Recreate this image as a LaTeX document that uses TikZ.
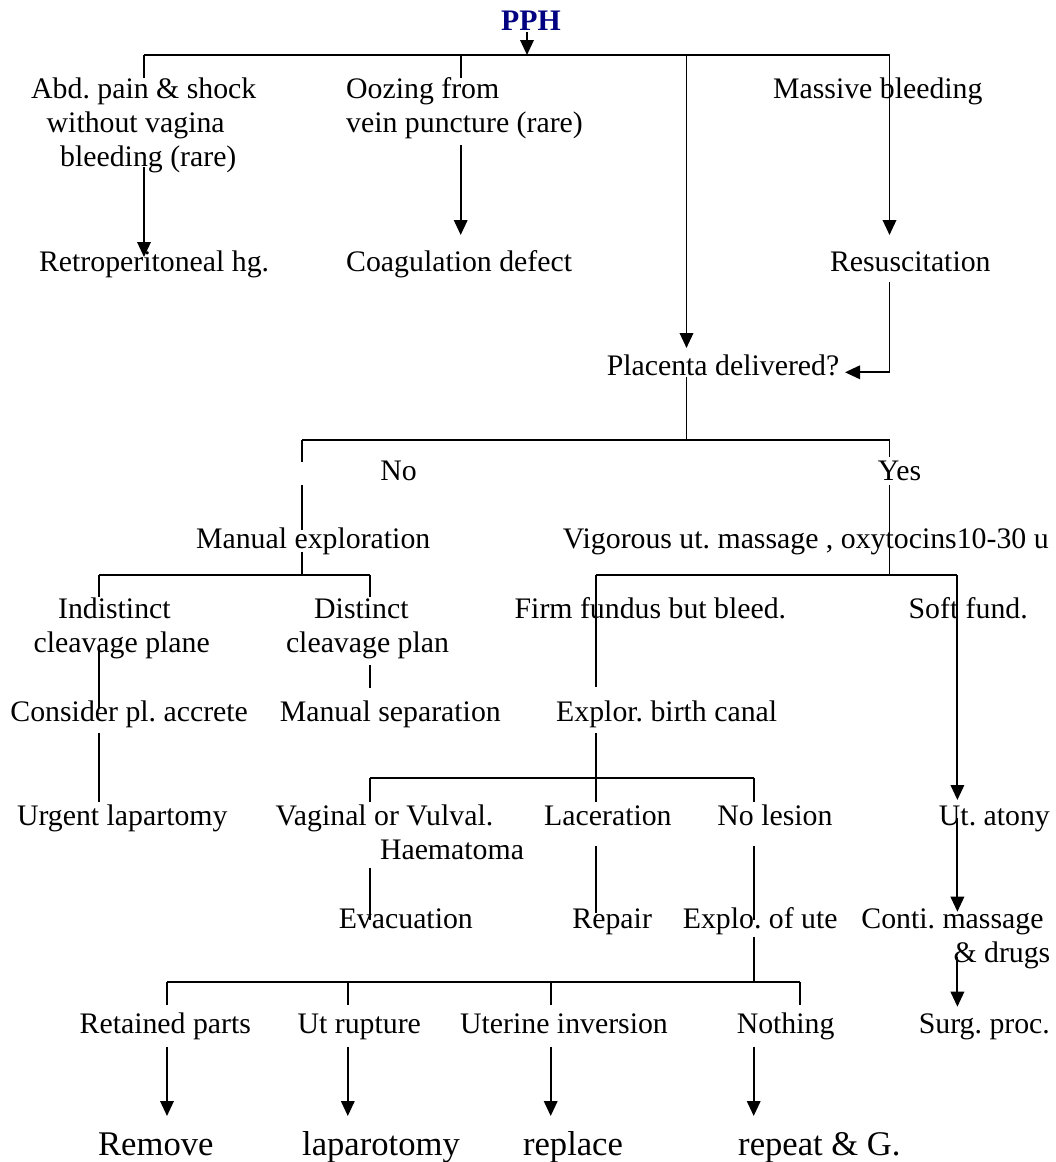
\documentclass[tikz,border=0pt]{standalone}
\usepackage{fontspec}
\setmainfont{Liberation Serif}
\usetikzlibrary{arrows.meta}
\definecolor{pphblue}{RGB}{0,0,128}
\newcommand{\mlines}[1]{\begin{tabular}[t]{@{}l@{}}#1\end{tabular}}
\frenchspacing
\begin{document}
\frenchspacing
\begin{tikzpicture}[x=1pt,y=-1pt,
  ln/.style={line width=1.9pt},
  arr/.style={line width=1.9pt,-{Triangle[length=15pt,width=13.5pt]}},
  txt/.style={inner sep=0pt,font=\fontsize{29.8pt}{34.3pt}\selectfont,anchor=base},
  bigtxt/.style={inner sep=0pt,font=\fontsize{34.6pt}{40pt}\selectfont,anchor=base}]
\fill[white] (0,0) rectangle (1055,1162);
\useasboundingbox (0,0) rectangle (1055,1162);

% ---------- text nodes ----------
\node[inner sep=0pt,anchor=base,text=pphblue,font=\fontsize{29.8pt}{34.3pt}\selectfont\bfseries] (pph) at (531,30) {PPH};
\node[txt,anchor=base west] (abd) at (31,98.3) {\mlines{Abd. pain \& shock\\\hspace*{15.5pt}without vagina\\\hspace*{29pt}bleeding (rare)}};
\node[txt,anchor=base west] (ooz) at (346,98.3) {\mlines{Oozing from\\vein puncture (rare)}};
\node[txt] (mass) at (877.8,98.3) {Massive bleeding};
\node[txt] (retro) at (154.1,271.7) {Retroperitoneal hg.};
\node[txt,anchor=base west] (coag) at (346,271.7) {Coagulation defect};
\node[txt] (resus) at (910.3,271.7) {Resuscitation};
\node[txt] (plac) at (723,375) {Placenta delivered?};
\node[txt] (no) at (398.6,480) {No};
\node[txt] (yes) at (899.5,480) {Yes};
\node[txt] (manexp) at (313.2,548.3) {Manual exploration};
\node[txt] (vig) at (805.8,548.3) {Vigorous ut. massage , oxytocins10-30 u};
\node[txt,anchor=base west] (indist) at (33.4,618.3) {\mlines{\hspace*{24.5pt}Indistinct\\cleavage plane}};
\node[txt,anchor=base west] (dist) at (285.8,618.3) {\mlines{\hspace*{28.2pt}Distinct\\cleavage plan}};
\node[txt] (firm) at (650.4,618.3) {Firm fundus but bleed.};
\node[txt] (soft) at (968.2,618.3) {Soft fund.};
\node[txt] (consider) at (129.2,721.7) {Consider pl. accrete};
\node[txt] (mansep) at (390.3,721.7) {Manual separation};
\node[txt] (explor) at (666.7,721.7) {Explor. birth canal};
\node[txt] (urgent) at (122.3,825) {Urgent lapartomy};
\node[txt,anchor=base west] (vag) at (275.5,825) {\mlines{Vaginal or Vulval.\\\hspace*{104.3pt}Haematoma}};
\node[txt] (lac) at (607.9,825) {Laceration};
\node[txt] (nolesion) at (775,825) {No lesion};
\node[txt] (atony) at (994.4,825) {Ut. atony};
\node[txt] (evac) at (405.8,928.3) {Evacuation};
\node[txt] (repair) at (612.2,928.3) {Repair};
\node[txt] (exute) at (760.2,928.3) {Explo. of ute};
\node[txt,anchor=base west] (conti) at (861.2,928.3) {\mlines{Conti. massage\\\hspace*{92.1pt}\& drugs}};
\node[txt] (retained) at (165.3,1033.3) {Retained parts};
\node[txt] (utrup) at (359.3,1033.3) {Ut rupture};
\node[txt] (utinv) at (564,1033.3) {Uterine inversion};
\node[txt] (nothing) at (785.6,1033.3) {Nothing};
\node[txt] (surg) at (984.4,1033.3) {Surg. proc.};
\node[bigtxt] (remove) at (155.8,1155) {Remove};
\node[bigtxt] (lapar) at (381,1155) {laparotomy};
\node[bigtxt] (replace) at (573,1155) {replace};
\node[bigtxt] (repeat) at (819.4,1155) {repeat \& G.};

% ---------- connector points ----------
\coordinate (pphA) at (527,32);
\coordinate (tL) at (144,55);
\coordinate (tO) at (460.7,55);
\coordinate (tP) at (527,55);
\coordinate (tM) at (686.5,55);
\coordinate (tR) at (889.5,55);
\coordinate (abdIn) at (144,78);
\coordinate (abdOut) at (144,167);
\coordinate (retroIn) at (144,257);
\coordinate (oozIn) at (460.7,78);
\coordinate (oozOut) at (460.7,145);
\coordinate (coagIn) at (460.7,235);
\coordinate (placIn) at (686.5,348);
\coordinate (resIn) at (889.5,235);
\coordinate (resOut) at (889.5,281.7);
\coordinate (resC) at (889.5,372.3);
\coordinate (placR) at (845,372.3);
\coordinate (placOut) at (686.5,377);
\coordinate (hP) at (686.5,440);
\coordinate (hL) at (302.3,440);
\coordinate (hR) at (889.5,440);
\coordinate (noA) at (302.3,461.7);
\coordinate (noB) at (302.3,485);
\coordinate (meIn) at (302.3,530);
\coordinate (meOut) at (302.3,551.7);
\coordinate (meJ) at (302.3,575);
\coordinate (mL) at (99,575);
\coordinate (mR) at (370,575);
\coordinate (indIn) at (99,596.7);
\coordinate (disIn) at (370,596.7);
\coordinate (yesIn) at (889.5,456.7);
\coordinate (yesOut) at (889.5,485);
\coordinate (vigJ) at (889.5,575);
\coordinate (vL) at (595.7,575);
\coordinate (vR) at (957.4,575);
\coordinate (ebcIn) at (595.7,686.7);
\coordinate (atonyIn) at (957.4,800);
\coordinate (indOut) at (99,646.7);
\coordinate (conIn) at (99,708.3);
\coordinate (conOut) at (99,733.3);
\coordinate (urgIn) at (99,801.7);
\coordinate (disOut) at (370,665);
\coordinate (msIn) at (370,688.3);
\coordinate (ebcOut) at (595.7,733.3);
\coordinate (lacIn) at (595.7,801.7);
\coordinate (bL) at (370,778.3);
\coordinate (bR) at (754,778.3);
\coordinate (vagIn) at (370,801.7);
\coordinate (nlIn) at (754,801.7);
\coordinate (vagOut) at (370,868.3);
\coordinate (evIn) at (370,920);
\coordinate (lacOut) at (595.7,846);
\coordinate (repIn) at (595.7,913.3);
\coordinate (nlOut) at (754,846);
\coordinate (exIn) at (754,920);
\coordinate (exOut) at (754,936.7);
\coordinate (eJ) at (754,981.7);
\coordinate (atOut) at (957.4,818);
\coordinate (ctIn) at (957.4,911.7);
\coordinate (ctOut) at (957.4,956.7);
\coordinate (spIn) at (957.4,1006.7);
\coordinate (eL) at (167,981.7);
\coordinate (e2) at (347.8,981.7);
\coordinate (e3) at (550.7,981.7);
\coordinate (eR) at (799.8,981.7);
\coordinate (rpIn) at (167,1005);
\coordinate (urIn) at (347.8,1005);
\coordinate (uiIn) at (550.7,1005);
\coordinate (nthIn) at (799.8,1005);
\coordinate (rpOut) at (167,1046.7);
\coordinate (remIn) at (167,1116);
\coordinate (urOut) at (347.8,1046.7);
\coordinate (lapIn) at (347.8,1116);
\coordinate (uiOut) at (550.7,1046.7);
\coordinate (replIn) at (550.7,1116);
\coordinate (nthOut) at (753.7,1046.7);
\coordinate (rptIn) at (753.7,1116);

% ---------- connectors ----------
\draw[arr] (pphA) -- (tP);
\draw[ln] (tL) -- (tR);
\draw[ln] (tL) -- (abdIn);
\draw[ln] (tO) -- (oozIn);
\draw[arr] (tM) -- (placIn);
\draw[arr] (tR) -- (resIn);
\draw[arr] (abdOut) -- (retroIn);
\draw[arr] (oozOut) -- (coagIn);
\draw[arr] (resOut) -- (resC) -- (placR);
\draw[ln] (placOut) -- (hP);
\draw[ln] (hL) -- (hR);
\draw[ln] (hL) -- (noA);
\draw[ln] (noB) -- (meIn);
\draw[ln] (meOut) -- (meJ);
\draw[ln] (mL) -- (mR);
\draw[ln] (mL) -- (indIn);
\draw[ln] (mR) -- (disIn);
\draw[ln] (hR) -- (yesIn);
\draw[ln] (yesOut) -- (vigJ);
\draw[ln] (vL) -- (vR);
\draw[ln] (vL) -- (ebcIn);
\draw[arr] (vR) -- (atonyIn);
\draw[ln] (indOut) -- (conIn);
\draw[ln] (conOut) -- (urgIn);
\draw[ln] (disOut) -- (msIn);
\draw[ln] (ebcOut) -- (lacIn);
\draw[ln] (bL) -- (bR);
\draw[ln] (bL) -- (vagIn);
\draw[ln] (bR) -- (nlIn);
\draw[ln] (vagOut) -- (evIn);
\draw[ln] (lacOut) -- (repIn);
\draw[ln] (nlOut) -- (exIn);
\draw[ln] (exOut) -- (eJ);
\draw[arr] (atOut) -- (ctIn);
\draw[arr] (ctOut) -- (spIn);
\draw[ln] (eL) -- (eR);
\draw[ln] (eL) -- (rpIn);
\draw[ln] (e2) -- (urIn);
\draw[ln] (e3) -- (uiIn);
\draw[ln] (eR) -- (nthIn);
\draw[arr] (rpOut) -- (remIn);
\draw[arr] (urOut) -- (lapIn);
\draw[arr] (uiOut) -- (replIn);
\draw[arr] (nthOut) -- (rptIn);
\end{tikzpicture}
\end{document}
